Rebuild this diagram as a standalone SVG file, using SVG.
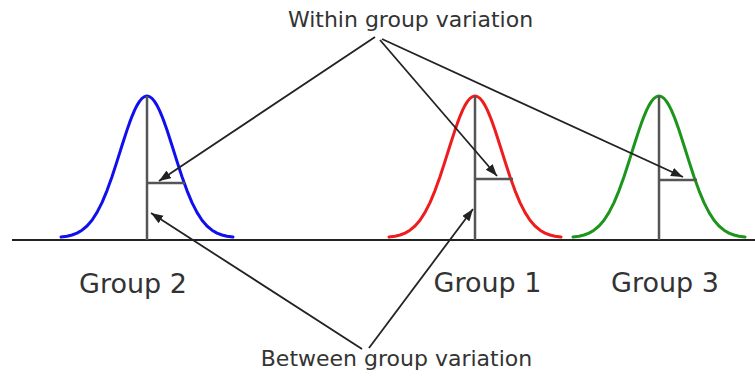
<svg xmlns="http://www.w3.org/2000/svg" xmlns:xlink="http://www.w3.org/1999/xlink" width="755" height="376" viewBox="0 0 755 376">
<style>
text{font-family:"DejaVu Sans","Verdana",sans-serif;fill:#333;text-anchor:middle}
.lbl{font-size:22px}
.grp{font-size:27px}
.bell{fill:none;stroke-width:3;stroke-linejoin:round;stroke-linecap:round}
.stem{stroke:#555;stroke-width:2.5;fill:none}
.axis{stroke:#222;stroke-width:2;fill:none}
.arr{stroke:#222;stroke-width:1.8;fill:none;marker-end:url(#ah)}
</style>
<defs>
<marker id="ah" markerUnits="userSpaceOnUse" markerWidth="13" markerHeight="10" refX="12" refY="4.5" orient="auto">
<path d="M0,0 L12,4.5 L0,9 z" fill="#222"/>
</marker>
<polyline id="bellshape" points="-86,237.1 -80,236.2 -75,235 -70,233.1 -65,230.2 -60,226 -55,220.2 -50,212.4 -45,202.6 -40,190.6 -35,176.7 -30,161.4 -25,145.5 -20,130.1 -17.5,122.9 -15,116.3 -12.5,110.4 -10,105.4 -7.5,101.4 -5,98.4 -2.5,96.6 0,96 2.5,96.6 5,98.4 7.5,101.4 10,105.4 12.5,110.4 15,116.3 17.5,122.9 20,130.1 25,145.5 30,161.4 35,176.7 40,190.6 45,202.6 50,212.4 55,220.2 60,226 65,230.2 70,233.1 75,235 80,236.2 86,237.1"/>
</defs>
<line class="axis" x1="12" y1="240" x2="755" y2="240"/>
<g id="group2">
<use xlink:href="#bellshape" href="#bellshape" class="bell" stroke="#1010ee" transform="translate(147,0)"/>
<line class="stem" x1="147" y1="96" x2="147" y2="240"/>
<line class="stem" x1="147" y1="183" x2="185" y2="183"/>
<text class="grp" x="133" y="293">Group 2</text>
</g>
<g id="group1">
<use xlink:href="#bellshape" href="#bellshape" class="bell" stroke="#ee1c1c" transform="translate(475,0)"/>
<line class="stem" x1="475" y1="96" x2="475" y2="240"/>
<line class="stem" x1="475" y1="179" x2="513" y2="179"/>
<text class="grp" x="487.5" y="292">Group 1</text>
</g>
<g id="group3">
<use xlink:href="#bellshape" href="#bellshape" class="bell" stroke="#1c951c" transform="translate(659,0)"/>
<line class="stem" x1="659" y1="96" x2="659" y2="240"/>
<line class="stem" x1="659" y1="180" x2="697" y2="180"/>
<text class="grp" x="665" y="292">Group 3</text>
</g>
<g id="within">
<text class="lbl" x="410.5" y="27">Within group variation</text>
</g>
<g id="between">
<text class="lbl" x="396.5" y="366">Between group variation</text>
</g>
<g id="connectors">
<line class="arr" x1="375" y1="37" x2="159" y2="181"/>
<line class="arr" x1="380" y1="40" x2="497" y2="176"/>
<line class="arr" x1="382" y1="39" x2="683" y2="177"/>
<line class="arr" x1="362" y1="349" x2="151" y2="213"/>
<line class="arr" x1="369" y1="348" x2="473" y2="209"/>
</g>
</svg>
